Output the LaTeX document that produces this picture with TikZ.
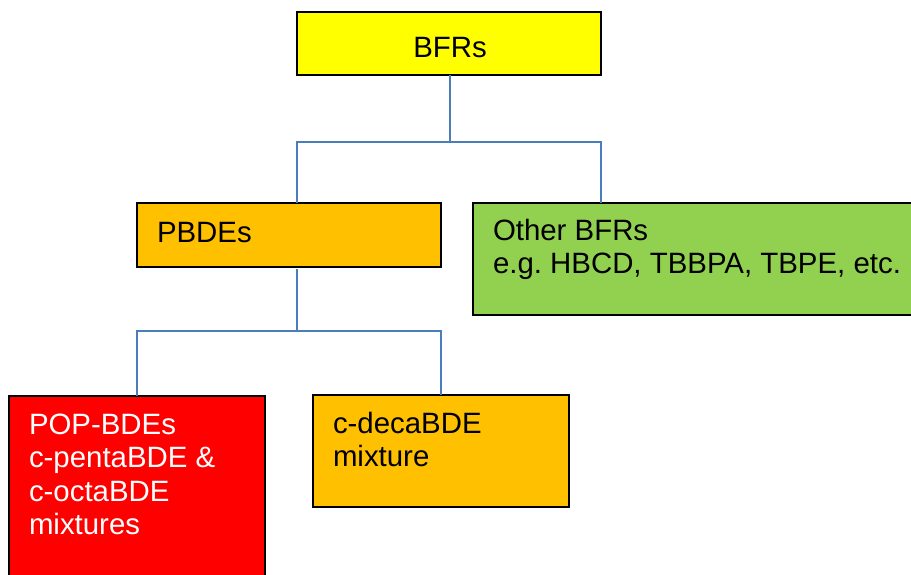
\documentclass[tikz,border=0pt]{standalone}
\usepackage{fontspec}
\setmainfont{Liberation Sans}
\frenchspacing
\definecolor{cyel}{HTML}{FFFF00}
\definecolor{corg}{HTML}{FFC000}
\definecolor{cgrn}{HTML}{92D050}
\definecolor{cred}{HTML}{FF0000}
\definecolor{cline}{HTML}{4A7EBB}
\begin{document}
\begin{tikzpicture}[x=1pt,y=-1pt,
  box/.style={draw=black,line width=2.2pt,anchor=north west,inner sep=0pt,outer sep=0pt},
  txt/.style={inner sep=0pt,outer sep=0pt,align=left,font=\fontsize{29.4}{33.5}\selectfont},
  conn/.style={draw=cline,line width=2pt}]
\fill[white] (0,0) rectangle (911,574);
\useasboundingbox (0,0) rectangle (911,574);
\begin{scope}
\clip (0,0) rectangle (911,574);
\node[box,fill=cyel,minimum width=304pt,minimum height=63pt] (bfrs) at (297,12) {};
\node[box,fill=corg,minimum width=304pt,minimum height=64pt] (pbdes) at (137,203) {};
\node[box,fill=cgrn,minimum width=450pt,minimum height=112pt] (other) at (473,203) {};
\node[box,fill=cred,minimum width=256pt,minimum height=200pt] (pop) at (9,396) {};
\node[box,fill=corg,minimum width=256pt,minimum height=112pt] (deca) at (313,395) {};

\node[txt,anchor=base] (tbfrs) at (450,57) {BFRs};
\node[txt,anchor=base west] (tpbdes) at (157,242) {PBDEs};
\node[txt,anchor=base west] (tother) at (493,273.5) {Other BFRs\\e.g. HBCD, TBBPA, TBPE, etc.};
\node[txt,anchor=base west,text=white] (tpop) at (29,534.5) {POP-BDEs\\c-pentaBDE \&\\c-octaBDE\\mixtures};
\node[txt,anchor=base west] (tdeca) at (333,466.5) {c-decaBDE\\mixture};

\coordinate (j1) at (450,142);
\coordinate (j2) at (297,331);
\draw[conn] (bfrs.south -| j1) -- (j1);
\draw[conn] (pbdes.north -| bfrs.west) |- (j1) -| (other.north -| bfrs.east);
\draw[conn] (pbdes.south -| j2) ++(0,2) -- (j2);
\draw[conn] (pop.north -| pbdes.west) |- (j2) -| (deca.north -| pbdes.east);
\end{scope}
\end{tikzpicture}
\end{document}
